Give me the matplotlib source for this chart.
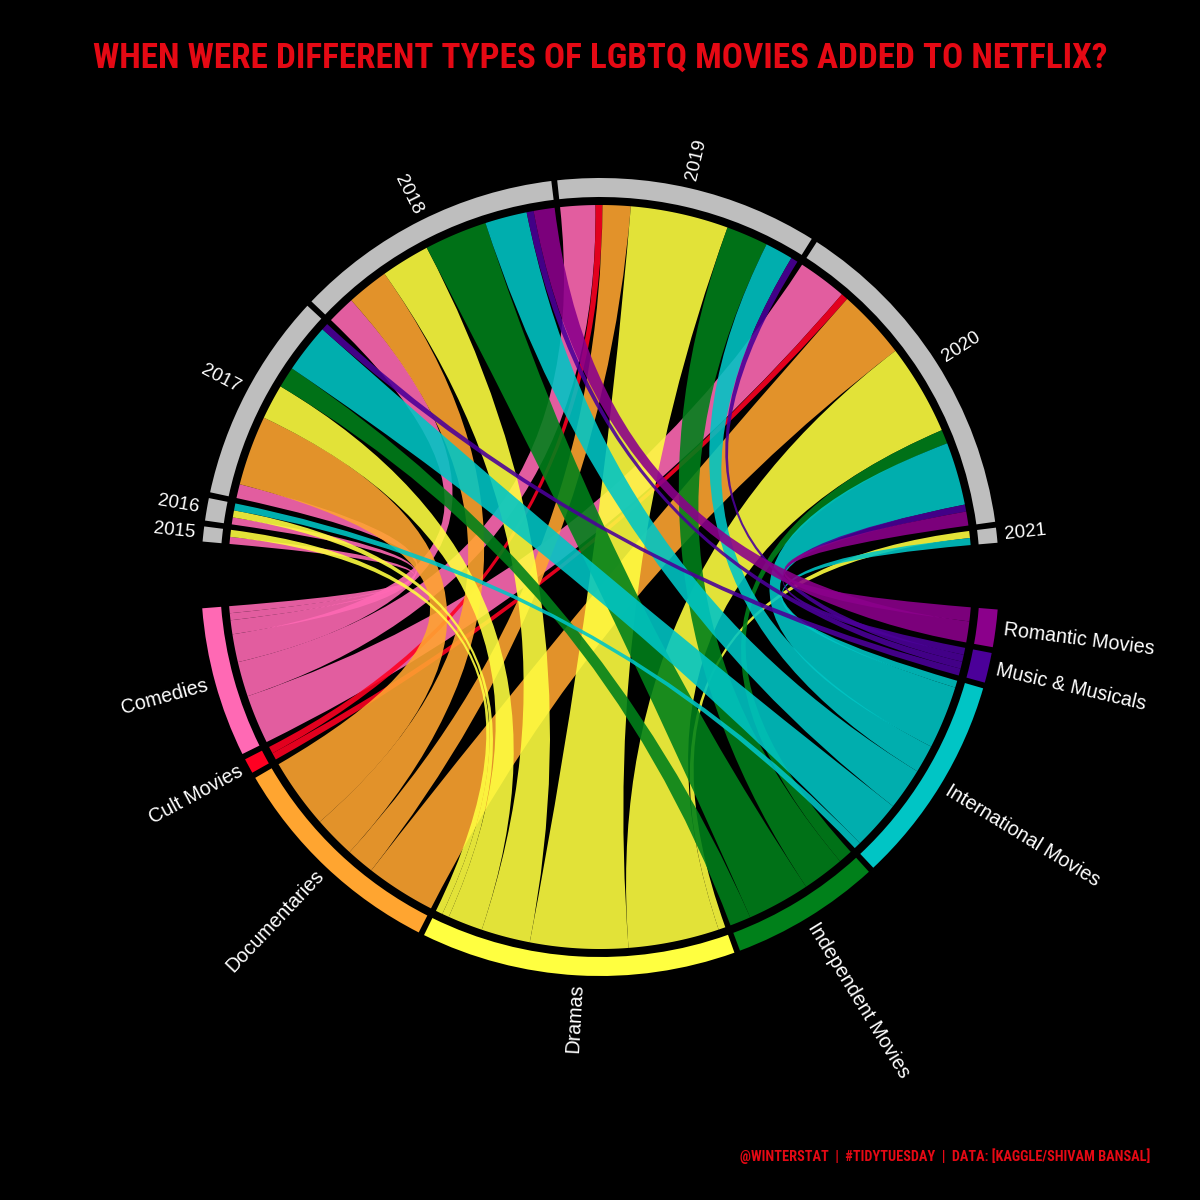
import os
import re
import numpy as np
import matplotlib
matplotlib.use('Agg')
import matplotlib.pyplot as plt
from matplotlib.patches import Wedge, PathPatch
from matplotlib.path import Path
from matplotlib import font_manager
from matplotlib.font_manager import FontProperties

# ---------------- data ----------------
years = ['2015', '2016', '2017', '2018', '2019', '2020', '2021']
categories = ['Comedies', 'Cult Movies', 'Documentaries', 'Dramas',
              'Independent Movies', 'International Movies',
              'Music & Musicals', 'Romantic Movies']
# number of LGBTQ movies of each type added per year (2015 ... 2021)
comedies      = [1, 1, 2, 4, 5, 7, 0]
cult          = [0, 0, 0, 0, 1, 1, 0]
documentaries = [0, 0, 10, 6, 4, 10, 0]
dramas        = [1, 1, 5, 7, 14, 13, 1]
independent   = [0, 0, 3, 9, 6, 2, 0]
international = [0, 1, 7, 6, 4, 9, 1]
music         = [0, 0, 1, 1, 1, 1, 0]
romantic      = [0, 0, 0, 3, 0, 2, 0]

year_color = '#BEBEBE'
cat_colors = ['#FF69B4', '#FF0022', '#FFA530', '#FFFF40',
              '#00801A', '#00C5C5', '#4B0099', '#8B008B']

TITLE = 'WHEN WERE DIFFERENT TYPES OF LGBTQ MOVIES ADDED TO NETFLIX?'
CAPTION = '@WINTERSTAT  |  #TIDYTUESDAY  |  DATA: [KAGGLE/SHIVAM BANSAL]'
RED = '#E50914'

counts = np.array([comedies, cult, documentaries, dramas, independent,
                   international, music, romantic])  # (categories, years)


# ---------------- fonts ----------------
def condensed_font():
    files = sorted(set(f.fname for f in font_manager.fontManager.ttflist))
    exact = ['NotoSans-ExtraCondensedBold', 'NotoSans-CondensedBold',
             'RobotoCondensed-Bold', 'OpenSans-CondensedBold',
             'OpenSans_Condensed-Bold', 'LiberationSansNarrow-Bold',
             'DejaVuSansCondensed-Bold']
    for e in exact:
        for fn in files:
            b = os.path.splitext(os.path.basename(fn))[0]
            if b == e:
                return FontProperties(fname=fn)
    for fn in files:
        b = os.path.basename(fn)
        if re.search('(Condensed|Narrow)', b) and 'Bold' in b and not re.search('(Italic|Mono|Serif|Extra[Bb]old|Black)', b):
            return FontProperties(fname=fn)
    return FontProperties(family='DejaVu Sans', weight='bold')


title_fp = condensed_font()
label_family = ['Liberation Sans', 'DejaVu Sans']

# ---------------- figure ----------------
W = H = 1200
fig = plt.figure(figsize=(12, 12), dpi=100, facecolor='black')
ax = fig.add_axes([0, 0, 1, 1])
ax.set_xlim(0, W)
ax.set_ylim(0, H)
ax.set_facecolor('black')
ax.axis('off')

cx, cy = 600.0, 623.0
R_OUT, TRACK_W, R_LINK, R_LAB = 399.0, 19.0, 372.0, 407.0
START, BIG_GAP, SMALL_GAP = 174.9, 9.6, 0.85

year_tot = counts.sum(axis=0)
cat_tot = counts.sum(axis=1)
N = year_tot.sum()
n_sectors = len(years) + len(categories)
u = (360.0 - 2 * BIG_GAP - (n_sectors - 2) * SMALL_GAP) / (2.0 * N)

# sector layout, clockwise: years then categories reversed
sectors = [('y', i) for i in range(len(years))] + \
          [('c', j) for j in reversed(range(len(categories)))]
sec_range = {}
a = START
for k, (t, i) in enumerate(sectors):
    tot = year_tot[i] if t == 'y' else cat_tot[i]
    sec_range[(t, i)] = (a, a - tot * u)
    a -= tot * u
    if (t == 'y' and i == len(years) - 1) or k == len(sectors) - 1:
        a -= BIG_GAP
    else:
        a -= SMALL_GAP

# link end positions
ypos = {}
for i in range(len(years)):
    a = sec_range[('y', i)][0]
    for j in range(len(categories)):
        v = counts[j, i]
        if v > 0:
            ypos[(i, j)] = (a, a - v * u)
            a -= v * u
cpos = {}
for j in range(len(categories)):
    a = sec_range[('c', j)][0]
    for i in reversed(range(len(years))):
        v = counts[j, i]
        if v > 0:
            cpos[(i, j)] = (a, a - v * u)
            a -= v * u


def pt(deg, r=R_LINK):
    t = np.radians(deg)
    return (cx + r * np.cos(t), cy + r * np.sin(t))


def ribbon(ys, ye, cs, ce):
    verts, codes = [], []
    arc1 = np.linspace(ys, ye, max(3, int(abs(ys - ye) * 6) + 2))
    for k, t in enumerate(arc1):
        verts.append(pt(t))
        codes.append(Path.MOVETO if k == 0 else Path.LINETO)
    verts += [(cx, cy), pt(cs)]
    codes += [Path.CURVE3, Path.CURVE3]
    arc2 = np.linspace(cs, ce, max(3, int(abs(cs - ce) * 6) + 2))
    for t in arc2[1:]:
        verts.append(pt(t))
        codes.append(Path.LINETO)
    verts += [(cx, cy), pt(ys)]
    codes += [Path.CURVE3, Path.CURVE3]
    verts.append(pt(ys))
    codes.append(Path.CLOSEPOLY)
    return Path(verts, codes)


# chords
for j in range(len(categories)):
    for i in range(len(years)):
        if counts[j, i] > 0:
            ys, ye = ypos[(i, j)]
            cs, ce = cpos[(i, j)]
            ax.add_patch(PathPatch(ribbon(ys, ye, cs, ce), facecolor=cat_colors[j],
                                   edgecolor='none', alpha=0.89, zorder=2))


# outer track + labels
def label(text, mid, size):
    m = (mid + 180) % 360 - 180
    x, y = pt(mid, R_LAB)
    if -90 <= m <= 90:
        rot, ha = m, 'left'
    else:
        rot, ha = m - 180 if m > 0 else m + 180, 'right'
    ax.text(x, y, text, rotation=rot, rotation_mode='anchor', ha=ha, va='center',
            color='white', fontsize=size, family=label_family, zorder=5)


for (t, i), (a0, a1) in sec_range.items():
    col = year_color if t == 'y' else cat_colors[i]
    ax.add_patch(Wedge((cx, cy), R_OUT, a1, a0, width=TRACK_W, facecolor=col,
                       edgecolor='none', zorder=3))
    if t == 'y':
        label(years[i], (a0 + a1) / 2, 13.5)
    else:
        label(categories[i], (a0 + a1) / 2, 14.2)

# title and caption
title = fig.text(0.5, 1 - 68 / 1200, TITLE, ha='center', va='baseline', color=RED,
                 fontproperties=title_fp, fontsize=40)
cap = fig.text(1150 / 1200, 1 - 1161 / 1200, CAPTION, ha='right', va='baseline', color=RED,
               fontproperties=title_fp, fontsize=14)
fig.canvas.draw()
r = fig.canvas.get_renderer()
bw = title.get_window_extent(r).width
title.set_fontsize(min(40 * 1014 / bw, 40))
bw = cap.get_window_extent(r).width
cap.set_fontsize(min(14 * 412 / bw, 14))

fig.savefig('out.png', dpi=100, facecolor='black')
